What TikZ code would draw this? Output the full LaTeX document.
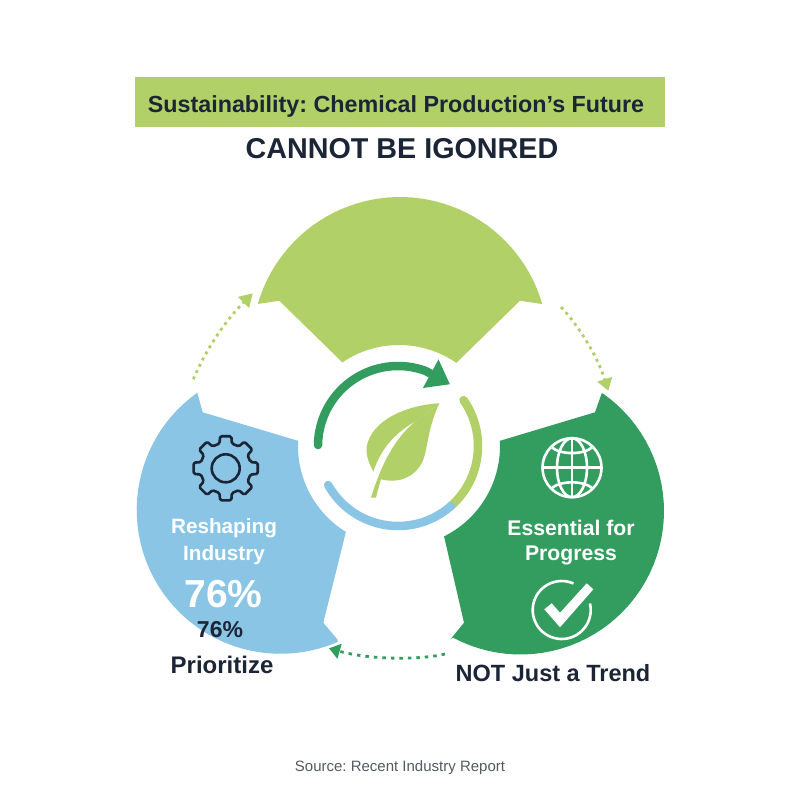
\documentclass[tikz,border=0pt]{standalone}
\usepackage{fontspec}
\setmainfont{Liberation Sans}
\usetikzlibrary{arrows.meta}
\definecolor{lgreen}{RGB}{177,208,103}
\definecolor{sky}{RGB}{138,197,230}
\definecolor{dgreen}{RGB}{50,157,94}
\definecolor{ink}{RGB}{27,37,54}
\definecolor{srcgray}{RGB}{85,90,98}
\newcommand{\fsz}[1]{\fontsize{#1}{#1}\selectfont}
\frenchspacing
\tikzset{
  lbl/.style={inner sep=0pt,align=center,font=\bfseries},
  dotlink/.style={line width=2.8pt,dash pattern=on 3pt off 4pt},
  ring/.style={line width=8.5pt,line cap=round},
  icon/.style={line width=2.6pt,line join=round},
  sm/.style={samples=48}
}
\begin{document}
\begin{tikzpicture}[x=1pt,y=-1pt]
\useasboundingbox (0,0) rectangle (800,800);
\fill[white] (0,0) rectangle (800,800);
% title
\node[fill=lgreen,minimum width=530pt,minimum height=50pt,inner sep=0pt] (bar) at (400,102) {};
\node[lbl,text=ink,font=\bfseries\fsz{23.3}] (title) at (396,106.5) {Sustainability: Chemical Production’s Future};
\node[lbl,text=ink,font=\bfseries\fsz{28.7}] (sub) at (402,149) {CANNOT BE IGONRED};
% segments
\fill[lgreen] (257.7,304) -- (279.3,300.7) -- (342.7,362.7) -- plot[sm,domain=236:304.6] ({399+101*cos(\x)},{446+101*sin(\x)}) -- (520,300.7) -- (541.7,304) -- plot[sm,domain=343.9:196.1] ({400+148*cos(\x)},{345+148*sin(\x)}) -- cycle;
\fill[sky] (197.3,392.7) -- (202.7,412.3) -- (297.7,440.7) -- plot[sm,domain=183:121.7] ({399+101*cos(\x)},{446+101*sin(\x)}) -- (323.3,622.7) -- (337.3,639.3) -- plot[sm,domain=66.5:234.5] ({280.5+143.8*cos(\x)},{510+143.8*sin(\x)}) -- cycle;
\fill[dgreen] (601.7,393.3) -- (595,412.3) -- (499.3,441) -- plot[sm,domain=-2.9:63.5] ({399+101*cos(\x)},{446+101*sin(\x)}) -- (464,622.7) -- (450.7,639) -- plot[sm,domain=118:-55] ({520.5+143.5*cos(\x)},{511+143.5*sin(\x)}) -- cycle;
% centre ring
\draw[ring,lgreen] plot[sm,domain=-35:48.6] ({398+80*cos(\x)},{446+80*sin(\x)});
\draw[ring,sky] plot[sm,domain=150.8:48.6] ({398+80*cos(\x)},{446+80*sin(\x)});
\coordinate (ringtip) at (450,384.3);
\draw[ring,dgreen,-{Triangle[length=22pt,width=31pt]}] plot[sm,domain=180.7:290] ({398+80*cos(\x)},{446+80*sin(\x)}) -- (ringtip);
% leaf
\begin{scope}[shift={(300,350)},x=.3333pt,y=-.3333pt]
\fill[lgreen] (418,160) .. controls (320,165) and (215,210) .. (200,290) .. controls (197,320) and (210,345) .. (220,365) .. controls (235,320) and (265,260) .. (345,215) -- cycle;
\fill[lgreen] (418,160) -- (345,215) .. controls (285,265) and (245,340) .. (213,443) -- (228,443) .. controls (232,425) and (238,405) .. (243,388) .. controls (270,395) and (330,400) .. (365,340) .. controls (385,300) and (380,240) .. (418,160) -- cycle;
\end{scope}
% gear
\begin{scope}[shift={(225.7,468.3)}]
\draw[icon,ink,rounded corners=1.5pt] (-14:25.5) \foreach \a in {0,45,...,315} { -- (\a-14:25.5) -- (\a-10:32.5) -- (\a+10:32.5) -- (\a+14:25.5) } -- cycle;
\draw[icon,ink] (0,0) circle (14);
\end{scope}
% globe
\begin{scope}[shift={(572,467.7)},icon,white]
\draw (0,0) circle (29.5);
\draw (0,-29.5) -- (0,29.5);
\draw (-29.5,0) -- (29.5,0);
\draw (0,0) ellipse (15 and 29.5);
\draw (-21,-21) .. controls (-12,-12.5) and (12,-12.5) .. (21,-21);
\draw (-21,21) .. controls (-12,12.5) and (12,12.5) .. (21,21);
\end{scope}
% check
\draw[icon,white] plot[sm,domain=-13:294] ({561.7+29*cos(\x)},{610+29*sin(\x)});
\fill[white] (544.3,609.3) -- (551.7,603.3) -- (560,612.7) -- (586.7,583.3) -- (593.3,589.3) -- (560,627.3) -- cycle;
% dotted connectors
\coordinate (a1) at (193.3,379.3);
\coordinate (a2) at (252.7,293.3);
\coordinate (b1) at (561,307);
\coordinate (b2) at (608.3,390.7);
\coordinate (c1) at (445,654);
\coordinate (c2) at (329,648.3);
\draw[dotlink,lgreen,-{Triangle[length=13pt,width=15pt]}] (a1) .. controls (208,345) and (228,318) .. (a2);
\draw[dotlink,lgreen,-{Triangle[length=12pt,width=15pt]}] (b1) .. controls (578,325) and (597,355) .. (b2);
\draw[dotlink,dgreen,dash pattern=on 3.5pt off 5pt,-{Triangle[length=11pt,width=15pt]}] (c1) .. controls (420,660) and (370,660) .. (c2);
% labels
\node[lbl,text=white,font=\bfseries\fsz{20.7}] (r1) at (224,528) {Reshaping};
\node[lbl,text=white,font=\bfseries\fsz{20.7}] (r2) at (224,555) {Industry};
\node[lbl,text=white,font=\bfseries\fsz{39}] (p1) at (223.5,594) {76\%};
\node[lbl,text=ink,font=\bfseries\fsz{23}] (p2) at (220,630) {76\%};
\node[lbl,text=ink,font=\bfseries\fsz{24}] (p3) at (222,665) {Prioritize};
\node[lbl,text=white,font=\bfseries\fsz{21.2}] (e1) at (571,528) {Essential for};
\node[lbl,text=white,font=\bfseries\fsz{21.2}] (e2) at (571,555) {Progress};
\node[lbl,text=ink,font=\bfseries\fsz{23.5}] (n1) at (553,673) {NOT Just a Trend};
\node[inner sep=0pt,text=srcgray,font=\fsz{15}] (src) at (400,768) {Source: Recent Industry Report};
\end{tikzpicture}
\end{document}
